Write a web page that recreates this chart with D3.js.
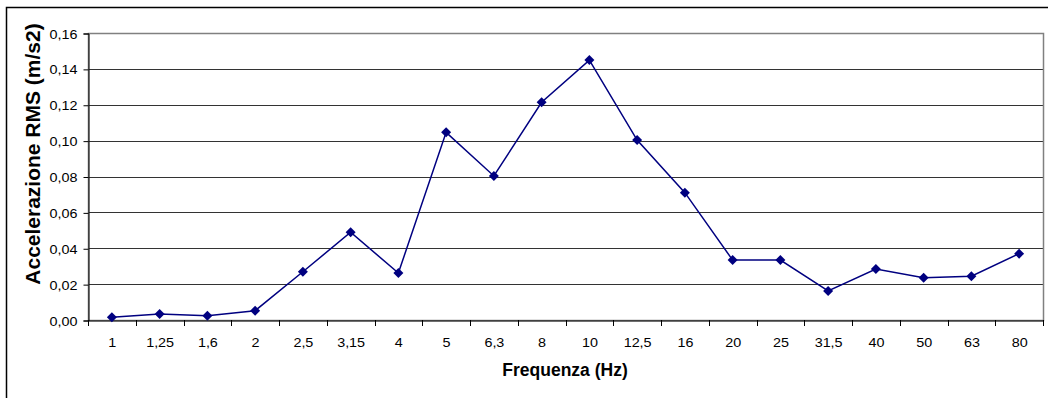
<!DOCTYPE html>
<html><head><meta charset="utf-8">
<script src="https://cdn.jsdelivr.net/npm/d3@7"></script>
<style>body{margin:0;background:#fff}svg{display:block}</style>
</head><body>
<svg id="c" width="1048" height="398"></svg>
<script>
const categories = ["1","1,25","1,6","2","2,5","3,15","4","5","6,3","8","10","12,5","16","20","25","31,5","40","50","63","80"];
const values = [0.0015,0.0033,0.0024,0.0052,0.0269,0.0489,0.0262,0.1046,0.0803,0.1214,0.1449,0.1003,0.0710,0.0334,0.0334,0.0162,0.0284,0.0236,0.0244,0.0370];
const yTicks = [0,0.02,0.04,0.06,0.08,0.10,0.12,0.14,0.16];

const svg = d3.select("#c");
const L = 88, T = 33, R = 1043, B = 320;
const font = "'Liberation Sans', Arial, sans-serif";

// outer frame
svg.append("rect").attr("x",6.5).attr("y",7.5).attr("width",1100).attr("height",500)
  .attr("fill","none").attr("stroke","#000").attr("stroke-width",1.5);

const x = d3.scaleBand().domain(categories).range([L,R]).padding(0);
const y = d3.scaleLinear().domain([0,0.16]).range([B,T]);

// grid lines
svg.append("g").selectAll("line").data(yTicks.filter(d=>d>0 && d<0.16)).join("line")
  .attr("x1",L).attr("x2",R).attr("y1",d=>Math.round(y(d))+0.5).attr("y2",d=>Math.round(y(d))+0.5)
  .attr("stroke","#333").attr("stroke-width",1);

// plot area border
svg.append("rect").attr("x",L+0.5).attr("y",T+0.5).attr("width",R-L).attr("height",B-T)
  .attr("fill","none").attr("stroke","#808080").attr("stroke-width",1.5);

// y axis
const fmt = d => d3.format(".2f")(d).replace(".",",");
const ya = svg.append("g").attr("transform",`translate(${L+0.5},0.5)`)
  .call(d3.axisLeft(y).tickValues(yTicks).tickFormat(fmt).tickSize(5));
ya.selectAll("text").attr("font-family",font).attr("font-size",12.5).attr("fill","#000")
  .attr("x",null).attr("dy","0.36em")
  .attr("transform","translate(-11,0) scale(1.15,1)");
ya.selectAll("line,path").attr("stroke","#000");

// x axis
const xa = svg.append("g").attr("transform",`translate(0.5,${B+0.5})`)
  .call(d3.axisBottom(x).tickSize(0));
xa.selectAll("text").attr("font-family",font).attr("font-size",12.5).attr("fill","#000")
  .attr("y",null).attr("dy",null).attr("transform","translate(0,26) scale(1.15,1)");
xa.select(".domain").attr("stroke","#000");
// tick marks at band boundaries
const bounds = categories.map(c=>x(c)).concat([R]);
svg.append("g").selectAll("line").data(bounds).join("line")
  .attr("x1",d=>Math.round(d)+0.5).attr("x2",d=>Math.round(d)+0.5)
  .attr("y1",B).attr("y2",B+6).attr("stroke","#000");

// line
const cx = c => x(c)+x.bandwidth()/2;
svg.append("path").datum(values)
  .attr("d",d3.line().x((d,i)=>cx(categories[i])).y(d=>y(d)))
  .attr("fill","none").attr("stroke","#000080").attr("stroke-width",1.5);
svg.append("g").selectAll("path").data(values).join("path")
  .attr("d",d3.symbol(d3.symbolSquare,50)())
  .attr("transform",(d,i)=>`translate(${cx(categories[i])},${y(d)}) rotate(45)`)
  .attr("fill","#000080");

// axis titles
svg.append("text").attr("x",565).attr("y",376).attr("text-anchor","middle")
  .attr("font-family",font).attr("font-weight","bold").attr("font-size",17.5).text("Frequenza (Hz)");
svg.append("text").attr("transform",`translate(40,154) rotate(-90)`).attr("text-anchor","middle")
  .attr("font-family",font).attr("font-weight","bold").attr("font-size",21).text("Accelerazione RMS (m/s2)");
</script>
</body></html>
